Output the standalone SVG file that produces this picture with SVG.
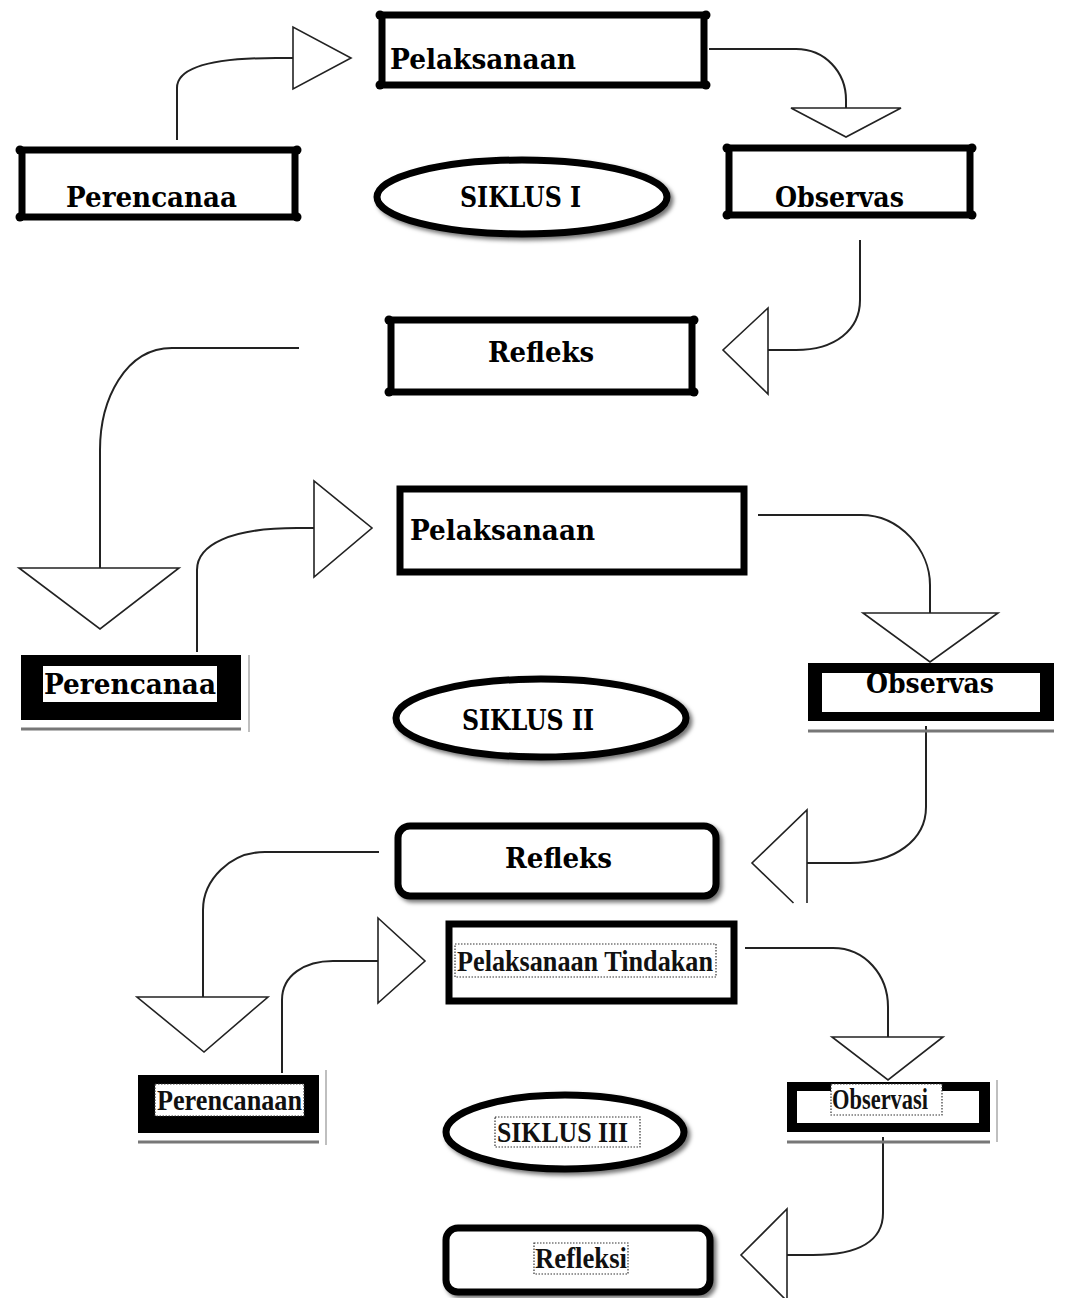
<svg xmlns="http://www.w3.org/2000/svg" width="1065" height="1298" viewBox="0 0 1065 1298">
<style>
.t1{font-family:"DejaVu Serif","Liberation Serif",serif;font-weight:bold;font-size:28px;fill:#000}
.t3{font-family:"Liberation Serif","Times New Roman",serif;font-weight:bold;font-size:30px;fill:#111}
.box{fill:#fff;stroke:#000;stroke-width:7}
.dot{fill:#000}
.ell{fill:#fff;stroke:#000;stroke-width:7}
.conn{fill:none;stroke:#222;stroke-width:2}
.tri{fill:#fff;stroke:#222;stroke-width:1.6;stroke-linejoin:miter}
.blk{fill:#000}
.wht{fill:#fff}
.dotted{fill:#fff;stroke:#333;stroke-width:1.2;stroke-dasharray:1.5 1.5}
.shad{stroke:#777;stroke-width:3}
.thin{stroke:#aaa;stroke-width:1.5}
</style>
<defs>
<filter id="sh" x="-10%" y="-10%" width="125%" height="135%">
<feDropShadow dx="3" dy="3" stdDeviation="2" flood-color="#000" flood-opacity="0.55"/>
</filter>
</defs>
<rect width="1065" height="1298" fill="#fff"/>

<g id="connectors">
<path class="conn" d="M177,140 V88 C177,68 210,58 276,58 H293"/>
<polygon class="tri" points="293,27 293,89 351,58"/>
<path class="conn" d="M709,49 H796 C825,49 846,72 846,100 V108"/>
<polygon class="tri" points="791,108 901,108 846,137"/>
<path class="conn" d="M860,240 V300 C860,330 835,350 796,350 H768"/>
<polygon class="tri" points="768,308 768,394 723,350"/>
<path class="conn" d="M299,348 H172 C125,348 100,400 100,450 V568"/>
<polygon class="tri" points="19,568 179,568 100,629"/>
<path class="conn" d="M197,652 V570 C197,545 230,528 297,528 H314"/>
<polygon class="tri" points="314,481 314,577 372,528"/>
<path class="conn" d="M758,515 H861 C900,515 930,550 930,585 V613"/>
<polygon class="tri" points="863,613 998,613 930,662"/>
<path class="conn" d="M926,726 V807 C926,840 895,863 850,863 H807"/>
<path class="tri" d="M793.5,903 L752,863 L807,810 L807,903"/>
<path class="conn" d="M379,852 H265 C230,852 203,880 203,910 V997"/>
<polygon class="tri" points="137,997 268,997 204,1052"/>
<path class="conn" d="M282,1073 V1000 C282,975 305,961 333,961 H378"/>
<polygon class="tri" points="378,918 378,1003 425,961"/>
<path class="conn" d="M745,948 H833 C865,948 888,975 888,1007 V1037"/>
<polygon class="tri" points="832,1037 943,1037 888,1080"/>
<path class="conn" d="M883,1137 V1213 C883,1240 860,1255 813,1255 H787"/>
<polygon class="tri" points="787,1209 787,1301 741,1255"/>
</g>

<!-- SIKLUS I -->
<g id="pelaksanaan1">
<rect class="box" x="382" y="15" width="322" height="70"/>
<circle class="dot" cx="380" cy="15" r="4.5"/><circle class="dot" cx="706" cy="15" r="4.5"/>
<circle class="dot" cx="380" cy="85" r="4.5"/><circle class="dot" cx="706" cy="85" r="4.5"/>
<text class="t1" x="390" y="69" textLength="186" lengthAdjust="spacingAndGlyphs">Pelaksanaan</text>
</g>
<g id="perencanaa1">
<rect class="box" x="22" y="150" width="273" height="67"/>
<circle class="dot" cx="20" cy="150" r="4.5"/><circle class="dot" cx="297" cy="150" r="4.5"/>
<circle class="dot" cx="20" cy="217" r="4.5"/><circle class="dot" cx="297" cy="217" r="4.5"/>
<text class="t1" x="66" y="207" textLength="171" lengthAdjust="spacingAndGlyphs">Perencanaa</text>
</g>
<g id="siklus1">
<ellipse class="ell" cx="522" cy="197" rx="145" ry="37" filter="url(#sh)"/>
<text class="t1" x="460" y="207" textLength="121" lengthAdjust="spacingAndGlyphs">SIKLUS I</text>
</g>
<g id="observas1">
<rect class="box" x="729" y="148" width="241" height="67"/>
<circle class="dot" cx="727" cy="148" r="4.5"/><circle class="dot" cx="972" cy="148" r="4.5"/>
<circle class="dot" cx="727" cy="215" r="4.5"/><circle class="dot" cx="972" cy="215" r="4.5"/>
<text class="t1" x="775" y="207" textLength="129" lengthAdjust="spacingAndGlyphs">Observas</text>
</g>
<g id="refleks1">
<rect class="box" x="391" y="320" width="301" height="72"/>
<circle class="dot" cx="389" cy="320" r="4.5"/><circle class="dot" cx="694" cy="320" r="4.5"/>
<circle class="dot" cx="389" cy="392" r="4.5"/><circle class="dot" cx="694" cy="392" r="4.5"/>
<text class="t1" x="488" y="362" textLength="106" lengthAdjust="spacingAndGlyphs">Refleks</text>
</g>

<!-- SIKLUS II -->
<g id="pelaksanaan2">
<rect class="box" x="400" y="489" width="344" height="83"/>
<text class="t1" x="410" y="540" textLength="185" lengthAdjust="spacingAndGlyphs">Pelaksanaan</text>
</g>
<g id="perencanaa2">
<line class="thin" x1="249" y1="655" x2="249" y2="732"/>
<line class="shad" x1="21" y1="729" x2="241" y2="729"/>
<rect class="blk" x="21" y="655" width="220" height="65"/>
<rect class="wht" x="43" y="666" width="174" height="36"/>
<text class="t1" x="44" y="694" textLength="172" lengthAdjust="spacingAndGlyphs">Perencanaa</text>
</g>
<g id="siklus2">
<ellipse class="ell" cx="541" cy="718" rx="145" ry="39" filter="url(#sh)"/>
<text class="t1" x="462" y="730" textLength="132" lengthAdjust="spacingAndGlyphs">SIKLUS II</text>
</g>
<g id="observas2">
<line class="shad" x1="808" y1="731" x2="1054" y2="731"/>
<rect class="blk" x="808" y="663" width="246" height="58"/>
<rect class="wht" x="822" y="673" width="218" height="39"/>
<text class="t1" x="866" y="693" textLength="128" lengthAdjust="spacingAndGlyphs">Observas</text>
</g>
<g id="refleks2">
<rect class="box" x="398" y="826" width="318" height="70" rx="12" stroke-width="6" filter="url(#sh)"/>
<text class="t1" x="505" y="868" textLength="107" lengthAdjust="spacingAndGlyphs">Refleks</text>
</g>

<!-- SIKLUS III -->
<g id="pelaksanaan3">
<rect class="box" x="449" y="924" width="285" height="77" stroke-width="6"/>
<rect class="dotted" x="455" y="944" width="261" height="33"/>
<text class="t3" x="457" y="971" textLength="256" lengthAdjust="spacingAndGlyphs">Pelaksanaan Tindakan</text>
</g>
<g id="perencanaan3">
<line class="thin" x1="326" y1="1070" x2="326" y2="1145"/>
<line class="shad" x1="138" y1="1142" x2="319" y2="1142"/>
<rect class="blk" x="138" y="1075" width="181" height="58"/>
<rect class="dotted" x="155" y="1084" width="149" height="32"/>
<text class="t3" x="157" y="1110" textLength="145" lengthAdjust="spacingAndGlyphs">Perencanaan</text>
</g>
<g id="siklus3">
<ellipse class="ell" cx="565" cy="1132" rx="119" ry="37" filter="url(#sh)"/>
<rect class="dotted" x="495" y="1117" width="145" height="30"/>
<text class="t3" x="497" y="1142" textLength="131" lengthAdjust="spacingAndGlyphs">SIKLUS III</text>
</g>
<g id="observasi3">
<line class="thin" x1="997" y1="1080" x2="997" y2="1142"/>
<line class="shad" x1="787" y1="1142" x2="990" y2="1142"/>
<rect class="blk" x="787" y="1082" width="203" height="50"/>
<rect class="wht" x="797" y="1091" width="182" height="32"/>
<rect class="dotted" x="831" y="1084" width="111" height="31"/>
<text class="t3" x="832" y="1109" textLength="96" lengthAdjust="spacingAndGlyphs">Observasi</text>
</g>
<g id="refleksi3">
<rect class="box" x="446" y="1228" width="264" height="64" rx="12" stroke-width="6" filter="url(#sh)"/>
<rect class="dotted" x="534" y="1243" width="94" height="31"/>
<text class="t3" x="535" y="1268" textLength="92" lengthAdjust="spacingAndGlyphs">Refleksi</text>
</g>
</svg>
